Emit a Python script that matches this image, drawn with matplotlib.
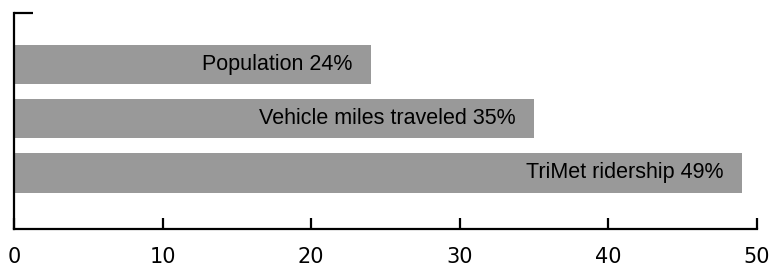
import matplotlib.pyplot as plt

# data
categories = ["Population", "Vehicle miles traveled", "TriMet ridership"]
values = [24, 35, 49]
x_ticks = [0, 10, 20, 30, 40, 50]

fig = plt.figure(figsize=(7.77, 2.68), dpi=100)
ax = fig.add_axes([0.018, 0.1455, 0.956, 0.806])

pos = list(range(len(categories)))
ax.barh(pos, values, height=0.72, color="#999999", edgecolor="none")

# labels inside the bars, right aligned near the bar end
for p, cat, v in zip(pos, categories, values):
    ax.annotate(f"{cat} {v}%", xy=(v, p), xytext=(-13, 0),
                textcoords="offset points", ha="right", va="center",
                fontsize=15.5, family=["Liberation Sans", "DejaVu Sans"],
                color="black")

ax.set_xlim(0, 50)
ax.set_ylim(3.03, -0.94)

for s in ["top", "right"]:
    ax.spines[s].set_visible(False)
for s in ["left", "bottom"]:
    ax.spines[s].set_linewidth(1.6)
    ax.spines[s].set_color("black")

ax.set_xticks(x_ticks)
ax.set_xticklabels([str(t) for t in x_ticks])
ax.tick_params(axis="x", direction="in", length=8, width=1.6, pad=13,
               labelsize=15, colors="black")

# little bracket at the top of the y axis
ax.set_yticks([-0.94])
ax.set_yticklabels([""])
ax.tick_params(axis="y", direction="in", length=13.5, width=1.6)

fig.savefig("out.png", dpi=100)
